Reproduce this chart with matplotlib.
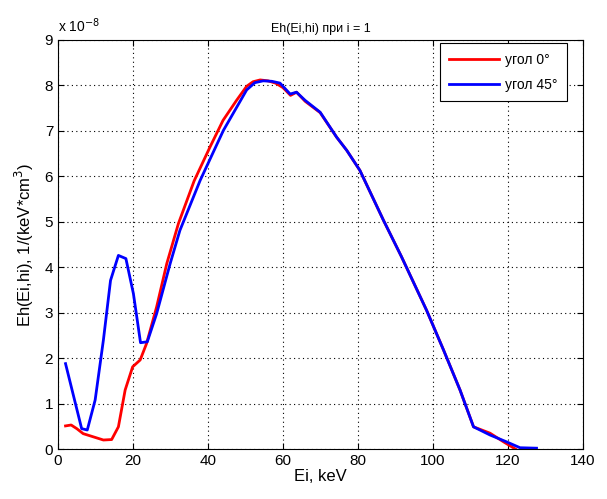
import matplotlib
matplotlib.use('Agg')
import matplotlib.pyplot as plt

plt.rcParams['font.family'] = ['Liberation Sans', 'DejaVu Sans']

# data (values in units of 1e-8)
x_red = [2, 3.5, 5, 6.7, 9.4, 12.1, 14.3, 16.1, 17.9, 19.9, 21.9, 23.6, 26.3, 29, 32.1,
         36.3, 40.5, 44, 47.6, 50.3, 52, 53.9, 56, 58, 60, 62, 63.6, 65.9, 69.9, 74.3,
         77, 80.5, 86.8, 91.6, 98.3, 102.8, 107.2, 110.8, 115.2, 119, 122]
y_red = [0.51, 0.53, 0.45, 0.34, 0.27, 0.20, 0.21, 0.49, 1.30, 1.81, 1.96, 2.32, 3.13, 4.08, 4.96,
         5.90, 6.64, 7.23, 7.67, 7.98, 8.08, 8.12, 8.10, 8.05, 7.95, 7.78, 7.85, 7.65, 7.40, 6.86,
         6.57, 6.13, 5.03, 4.23, 3.05, 2.18, 1.30, 0.49, 0.35, 0.15, 0.0]

x_blue = [2, 6.3, 7.8, 9.9, 12.1, 14.0, 16.1, 18.1, 20.1, 22.0, 23.8, 26.3, 29.9, 32.5, 37.9,
          44.1, 50.3, 52.5, 54.7, 57, 59.2, 61.9, 63.6, 65.9, 69.9, 74.3, 77, 80.5, 86.8, 91.6, 98.3,
          102.8, 107.2, 110.8, 115.2, 119.6, 123.2, 127.6]
y_blue = [1.88, 0.45, 0.42, 1.08, 2.40, 3.71, 4.26, 4.19, 3.42, 2.34, 2.36, 2.98, 4.08, 4.81, 5.91,
          7.01, 7.90, 8.06, 8.10, 8.09, 8.05, 7.81, 7.85, 7.67, 7.41, 6.86, 6.57, 6.13, 5.03, 4.23, 3.05,
          2.18, 1.30, 0.49, 0.31, 0.16, 0.03, 0.02]

labels = ['угол 0°', 'угол 45°']

fig = plt.figure(figsize=(6.07, 4.99), dpi=100)
ax = fig.add_axes([0.0956, 0.100, 0.8649, 0.820])

ax.plot(x_red, y_red, color='#ff0000', lw=2, label=labels[0])
ax.plot(x_blue, y_blue, color='#0000ff', lw=2, label=labels[1])

ax.set_xlim(0, 140)
ax.set_ylim(0, 9)
ax.set_xticks(range(0, 141, 20))
ax.set_yticks(range(0, 10))
ax.grid(True, color='black', linestyle=(0, (1, 3)), linewidth=0.8)
ax.tick_params(direction='in', top=True, right=True, labelsize=11, length=4)
for s in ax.spines.values():
    s.set_linewidth(0.8)

ax.set_title('Eh(Ei,hi) при i = 1', fontsize=9)
ax.set_xlabel('Ei, keV', fontsize=12, labelpad=1)
ax.set_ylabel('Eh(Ei,hi), 1/(keV*cm$^3$)', fontsize=12, labelpad=6)
ax.text(0.0, 1.012, 'x 10$^{-8}$', transform=ax.transAxes, fontsize=10, ha='left', va='bottom')

leg = ax.legend(loc='upper right', bbox_to_anchor=(0.970, 0.993), borderaxespad=0,
                fontsize=10, fancybox=False, framealpha=1, edgecolor='black',
                handlelength=3.6, labelspacing=0.8, borderpad=0.7, handletextpad=0.4)
leg.get_frame().set_linewidth(0.8)

fig.savefig('out.png', dpi=100)
